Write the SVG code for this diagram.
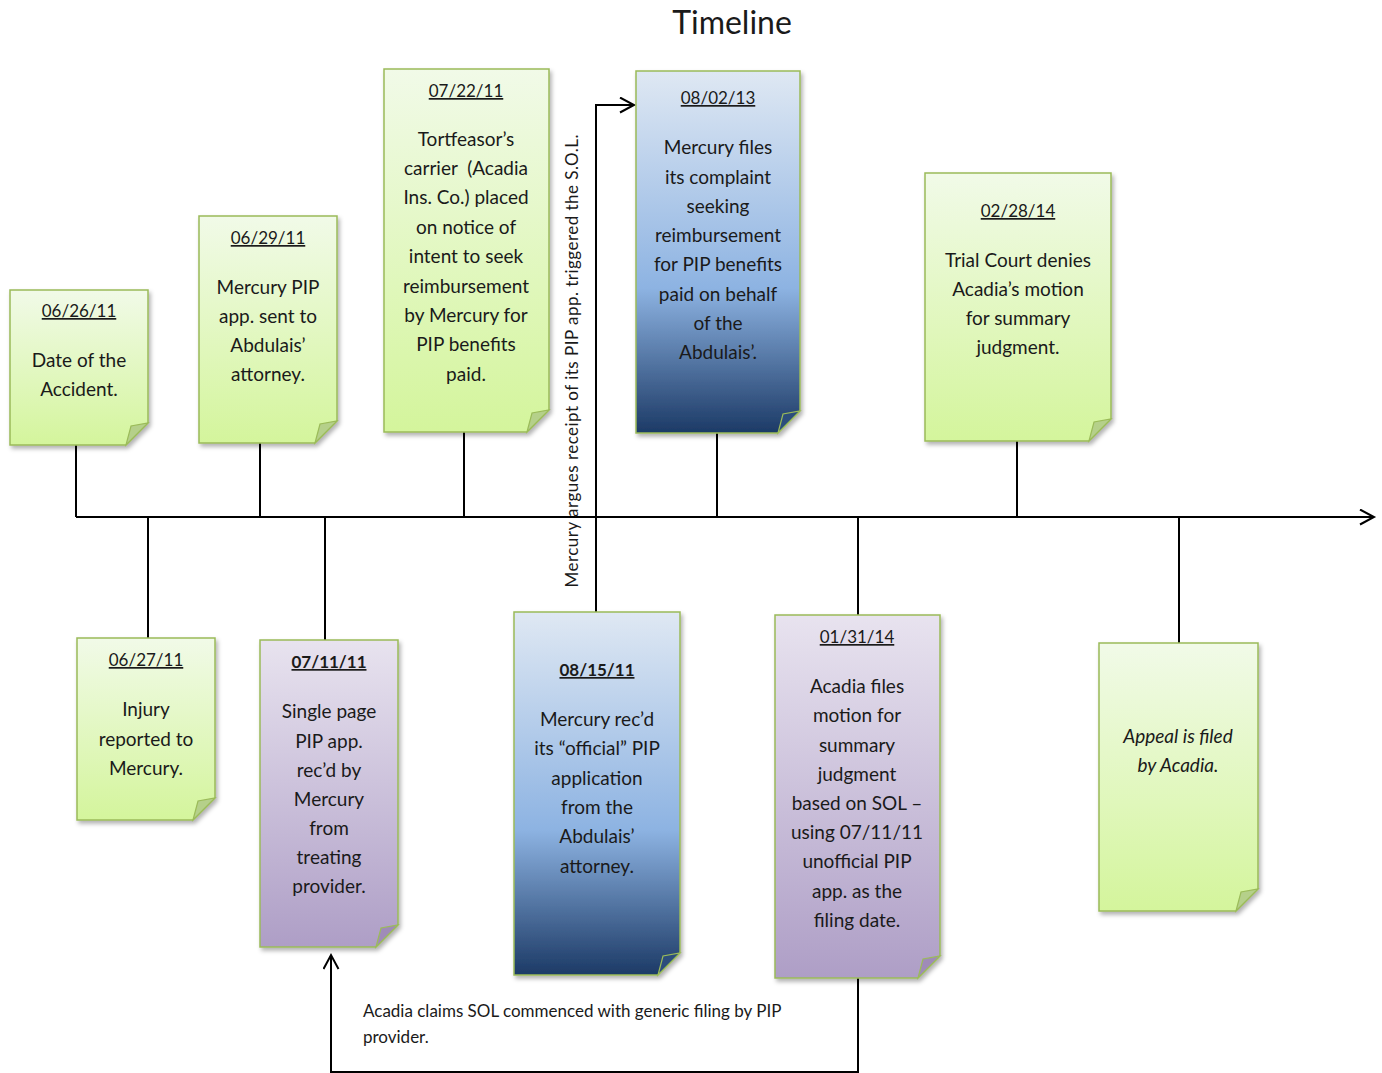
<svg xmlns="http://www.w3.org/2000/svg" width="1382" height="1073" viewBox="0 0 1382 1073">
<style>
text{font-family:Lato,"Open Sans","Liberation Sans",sans-serif;fill:#1a1a1a;text-anchor:middle}
.t{font-size:19px}
.d{font-size:17px;text-decoration:underline}
.b{font-weight:bold}
.i{font-style:italic}
.note{stroke:#9bbb59;stroke-width:1.5;filter:url(#sh)}
.fg{fill:#b5d08a;stroke:#9bbb59;stroke-width:1.2}
.fb{fill:#2c4d7c;stroke:#9bbb59;stroke-width:1.2}
.fp{fill:#9f8bb8;stroke:#9bbb59;stroke-width:1.2}
.c{stroke:#000;stroke-width:2;fill:none}
.lbl{font-size:17px;text-anchor:start}
</style>
<defs>
<linearGradient id="gG" x1="0" y1="0" x2="0" y2="1"><stop offset="0" stop-color="#f1fae8"/><stop offset="1" stop-color="#d4f59c"/></linearGradient>
<linearGradient id="gB" x1="0" y1="0" x2="0" y2="1"><stop offset="0" stop-color="#dfe8f3"/><stop offset="0.6" stop-color="#8db3e2"/><stop offset="1" stop-color="#1c3a66"/></linearGradient>
<linearGradient id="gP" x1="0" y1="0" x2="0" y2="1"><stop offset="0" stop-color="#e8e3ef"/><stop offset="1" stop-color="#ae9ec6"/></linearGradient>
<filter id="sh" x="-10%" y="-10%" width="125%" height="125%"><feDropShadow dx="2" dy="3" stdDeviation="2" flood-color="#000" flood-opacity="0.3"/></filter>
<marker id="ar" markerUnits="userSpaceOnUse" markerWidth="20" markerHeight="20" refX="15" refY="8" orient="auto"><path d="M1,0.5 L15,8 L1,15.5" fill="none" stroke="#000" stroke-width="2"/></marker>
</defs>
<rect width="1382" height="1073" fill="#fff"/>
<text x="732" y="34" style="font-size:32px">Timeline</text>

<g id="connectors">
<path class="c" d="M76,517 H1374" marker-end="url(#ar)"/>
<path class="c" d="M76,445 V517"/>
<path class="c" d="M260,443 V517"/>
<path class="c" d="M464,432 V517"/>
<path class="c" d="M717,433 V517"/>
<path class="c" d="M1017,441 V517"/>
<path class="c" d="M148,517 V638"/>
<path class="c" d="M325,517 V640"/>
<path class="c" d="M858,517 V615"/>
<path class="c" d="M1179,517 V643"/>
<path class="c" d="M596,612 V105 H634" marker-end="url(#ar)"/>
<path class="c" d="M858,978 V1072 H331 V955" marker-end="url(#ar)"/>
<text transform="translate(578,361) rotate(-90)" style="font-size:17px" textLength="453" lengthAdjust="spacing">Mercury argues receipt of its PIP app. triggered the S.O.L.</text>
<text class="lbl" x="363" y="1017">Acadia claims SOL commenced with generic filing by PIP</text>
<text class="lbl" x="363" y="1043">provider.</text>
</g>

<g id="n062611">
<path class="note" fill="url(#gG)" d="M10,290 H148 V423 L126,445 H10 Z"/>
<path class="fg" d="M126,445 L131,426 L148,423 Z"/>
<text class="d" x="79" y="317">06/26/11</text>
<text class="t" x="79" y="367">Date of the</text>
<text class="t" x="79" y="396">Accident.</text>
</g>

<g id="n062911">
<path class="note" fill="url(#gG)" d="M199,216 H337 V421 L315,443 H199 Z"/>
<path class="fg" d="M315,443 L320,424 L337,421 Z"/>
<text class="d" x="268" y="244">06/29/11</text>
<text class="t" x="268" y="294">Mercury PIP</text>
<text class="t" x="268" y="323">app. sent to</text>
<text class="t" x="268" y="352">Abdulais’</text>
<text class="t" x="268" y="381">attorney.</text>
</g>

<g id="n072211">
<path class="note" fill="url(#gG)" d="M384,69 H549 V410 L527,432 H384 Z"/>
<path class="fg" d="M527,432 L532,413 L549,410 Z"/>
<text class="d" x="466" y="97">07/22/11</text>
<text class="t" x="466" y="146">Tortfeasor’s</text>
<text class="t" x="466" y="175">carrier&#160; (Acadia</text>
<text class="t" x="466" y="204">Ins. Co.) placed</text>
<text class="t" x="466" y="234">on notice of</text>
<text class="t" x="466" y="263">intent to seek</text>
<text class="t" x="466" y="293">reimbursement</text>
<text class="t" x="466" y="322">by Mercury for</text>
<text class="t" x="466" y="351">PIP benefits</text>
<text class="t" x="466" y="381">paid.</text>
</g>

<g id="n080213">
<path class="note" fill="url(#gB)" d="M636,71 H800 V411 L778,433 H636 Z"/>
<path class="fb" d="M778,433 L783,414 L800,411 Z"/>
<text class="d" x="718" y="104">08/02/13</text>
<text class="t" x="718" y="154">Mercury files</text>
<text class="t" x="718" y="184">its complaint</text>
<text class="t" x="718" y="213">seeking</text>
<text class="t" x="718" y="242">reimbursement</text>
<text class="t" x="718" y="271">for PIP benefits</text>
<text class="t" x="718" y="301">paid on behalf</text>
<text class="t" x="718" y="330">of the</text>
<text class="t" x="718" y="359">Abdulais’.</text>
</g>

<g id="n022814">
<path class="note" fill="url(#gG)" d="M925,173 H1111 V419 L1089,441 H925 Z"/>
<path class="fg" d="M1089,441 L1094,422 L1111,419 Z"/>
<text class="d" x="1018" y="217">02/28/14</text>
<text class="t" x="1018" y="267">Trial Court denies</text>
<text class="t" x="1018" y="296">Acadia’s motion</text>
<text class="t" x="1018" y="325">for summary</text>
<text class="t" x="1018" y="354">judgment.</text>
</g>

<g id="n062711">
<path class="note" fill="url(#gG)" d="M77,638 H215 V798 L193,820 H77 Z"/>
<path class="fg" d="M193,820 L198,801 L215,798 Z"/>
<text class="d" x="146" y="666">06/27/11</text>
<text class="t" x="146" y="716">Injury</text>
<text class="t" x="146" y="746">reported to</text>
<text class="t" x="146" y="775">Mercury.</text>
</g>

<g id="n071111">
<path class="note" fill="url(#gP)" d="M260,640 H398 V925 L376,947 H260 Z"/>
<path class="fp" d="M376,947 L381,928 L398,925 Z"/>
<text class="d b" x="329" y="668">07/11/11</text>
<text class="t" x="329" y="718">Single page</text>
<text class="t" x="329" y="748">PIP app.</text>
<text class="t" x="329" y="777">rec’d by</text>
<text class="t" x="329" y="806">Mercury</text>
<text class="t" x="329" y="835">from</text>
<text class="t" x="329" y="864">treating</text>
<text class="t" x="329" y="893">provider.</text>
</g>

<g id="n081511">
<path class="note" fill="url(#gB)" d="M514,612 H680 V953 L658,975 H514 Z"/>
<path class="fb" d="M658,975 L663,956 L680,953 Z"/>
<text class="d b" x="597" y="676">08/15/11</text>
<text class="t" x="597" y="726">Mercury rec’d</text>
<text class="t" x="597" y="755">its “official” PIP</text>
<text class="t" x="597" y="785">application</text>
<text class="t" x="597" y="814">from the</text>
<text class="t" x="597" y="843">Abdulais’</text>
<text class="t" x="597" y="873">attorney.</text>
</g>

<g id="n013114">
<path class="note" fill="url(#gP)" d="M775,615 H940 V956 L918,978 H775 Z"/>
<path class="fp" d="M918,978 L923,959 L940,956 Z"/>
<text class="d" x="857" y="643">01/31/14</text>
<text class="t" x="857" y="693">Acadia files</text>
<text class="t" x="857" y="722">motion for</text>
<text class="t" x="857" y="752">summary</text>
<text class="t" x="857" y="781">judgment</text>
<text class="t" x="857" y="810">based on SOL –</text>
<text class="t" x="857" y="839">using 07/11/11</text>
<text class="t" x="857" y="868">unofficial PIP</text>
<text class="t" x="857" y="898">app. as the</text>
<text class="t" x="857" y="927">filing date.</text>
</g>

<g id="nappeal">
<path class="note" fill="url(#gG)" d="M1099,643 H1258 V889 L1236,911 H1099 Z"/>
<path class="fg" d="M1236,911 L1241,892 L1258,889 Z"/>
<text class="t i" x="1178" y="743">Appeal is filed</text>
<text class="t i" x="1178" y="772">by Acadia.</text>
</g>
</svg>
